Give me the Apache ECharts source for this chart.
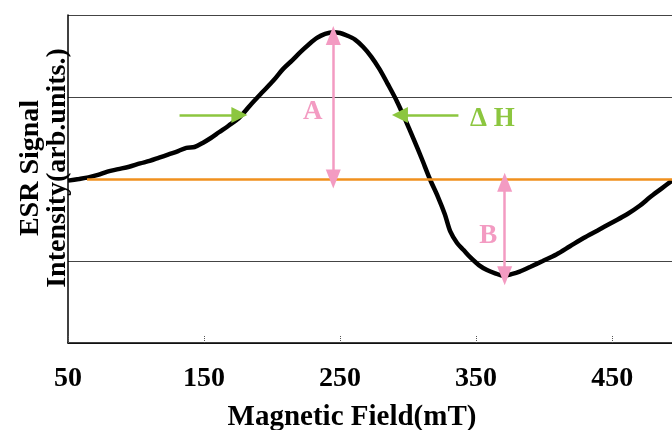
<!DOCTYPE html>
<html>
<head>
<meta charset="UTF-8">
<title>ESR</title>
<script src="https://cdn.jsdelivr.net/npm/echarts@6/dist/echarts.min.js"></script>
<style>
  html, body { margin: 0; padding: 0; background: #fff; }
  #chart { width: 672px; height: 430px; }
</style>
</head>
<body>
<div id="chart"></div>
<script>
// magnetic field (mT)
var field = [50, 58, 65, 72, 79, 87, 95, 103, 110, 117, 124, 131, 137, 143, 149, 155, 161, 168, 176, 184,
  193, 201, 208, 215, 221, 227, 233, 239, 245, 250, 255, 261, 267, 273, 279, 285, 292, 298, 304, 310,
  316, 322, 327, 331, 336, 341, 346, 352, 358, 364, 370, 376, 382, 390, 399, 409, 419, 429, 439, 450,
  461, 470, 478, 486, 494];
// ESR signal (arb. units)
var signal = [-0.02, 0.0, 0.02, 0.05, 0.09, 0.12, 0.15, 0.19, 0.22, 0.26, 0.30, 0.34, 0.38, 0.39, 0.44, 0.50, 0.57, 0.65, 0.75, 0.90,
  1.06, 1.20, 1.34, 1.45, 1.55, 1.64, 1.72, 1.77, 1.79, 1.78, 1.75, 1.70, 1.61, 1.49, 1.34, 1.16, 0.94, 0.72, 0.49, 0.25,
  0.0, -0.22, -0.43, -0.64, -0.78, -0.87, -0.96, -1.05, -1.11, -1.15, -1.18, -1.16, -1.13, -1.07, -1.00, -0.92, -0.82, -0.72, -0.63, -0.53,
  -0.43, -0.33, -0.22, -0.12, -0.02];

// annotation anchors (data units)
var peakA = [245, 1.75];
var peakB = [371, -1.18];
var dhLeft = [[132, 0.78], [176, 0.78]];
var dhRight = [[337, 0.78], [294, 0.78]];

var pink = '#F39BC2';
var green = '#8CC63F';
var orange = '#F0901E';
var serif = '"Liberation Serif", "Times New Roman", serif';

var pts = [];
for (var i = 0; i < field.length; i++) pts.push([field[i], signal[i]]);

var chart = echarts.init(document.getElementById('chart'));

var option = {
  animation: false,
  grid: { left: 68, right: 0, top: 15, bottom: 87, outerBoundsMode: 'none', containLabel: false },
  xAxis: {
    type: 'value',
    min: 50, max: 494, interval: 100,
    name: 'Magnetic Field(mT)',
    nameLocation: 'middle',
    nameGap: 60,
    nameTextStyle: { fontFamily: serif, fontWeight: 'bold', fontSize: 29, color: '#000', padding: [0, 36, 0, 0] },
    axisLine: { onZero: false, lineStyle: { color: '#000', width: 1.5 } },
    axisTick: { inside: true, length: 8, lineStyle: { color: '#555', type: 'dotted' } },
    axisLabel: { showMaxLabel: false, margin: 22, fontFamily: serif, fontWeight: 'bold', fontSize: 28, color: '#000' },
    splitLine: { show: false }
  },
  yAxis: {
    type: 'value',
    min: -2, max: 2, interval: 1,
    name: 'ESR Signal\nIntensity(arb.units.)',
    nameLocation: 'middle',
    nameRotate: 90,
    nameGap: -3,
    nameTextStyle: { fontFamily: serif, fontWeight: 'bold', fontSize: 28, lineHeight: 27, color: '#000', padding: [0, 0, 0, 22] },
    axisLine: { show: true, onZero: false, lineStyle: { color: '#000', width: 1.5 } },
    axisTick: { show: false },
    axisLabel: { show: false },
    splitLine: { lineStyle: { color: '#444', width: 1 } }
  },
  series: [{
    type: 'line',
    data: pts,
    showSymbol: false,
    smooth: 0.3,
    lineStyle: { color: '#000', width: 4.5 },
    z: 3,
    markLine: {
      silent: true,
      animation: false,
      label: { show: false },
      data: [
        [{ coord: [64, 0], symbol: 'none', lineStyle: { color: orange, width: 2.5, type: 'solid' } },
         { coord: [494, 0], symbol: 'none' }],
        [{ coord: [peakA[0], peakA[1]], symbol: 'triangle', symbolSize: [15, 19], lineStyle: { color: pink, width: 2.5, type: 'solid' } },
         { coord: [peakA[0], 0], symbol: 'triangle', symbolSize: [15, 19] }],
        [{ coord: [peakB[0], -0.04], symbol: 'triangle', symbolSize: [15, 19], lineStyle: { color: pink, width: 2.5, type: 'solid' } },
         { coord: [peakB[0], peakB[1]], symbol: 'triangle', symbolSize: [15, 19] }],
        [{ coord: dhLeft[0], symbol: 'none', lineStyle: { color: green, width: 2.5, type: 'solid' } },
         { coord: dhLeft[1], symbol: 'triangle', symbolSize: [16, 16] }],
        [{ coord: dhRight[0], symbol: 'none', lineStyle: { color: green, width: 2.5, type: 'solid' } },
         { coord: dhRight[1], symbol: 'triangle', symbolSize: [16, 16] }]
      ]
    },
    markPoint: {
      silent: true,
      symbol: 'circle',
      symbolSize: 0,
      label: { show: true, position: 'inside', fontFamily: serif, fontWeight: 'bold', fontSize: 27 },
      data: [
        { coord: [230, 0.82], label: { formatter: 'A', color: pink } },
        { coord: [359, -0.70], label: { formatter: 'B', color: pink } },
        { coord: [362, 0.73], label: { formatter: 'Δ H', color: green } }
      ]
    }
  }]
};

chart.setOption(option);
</script>
</body>
</html>
